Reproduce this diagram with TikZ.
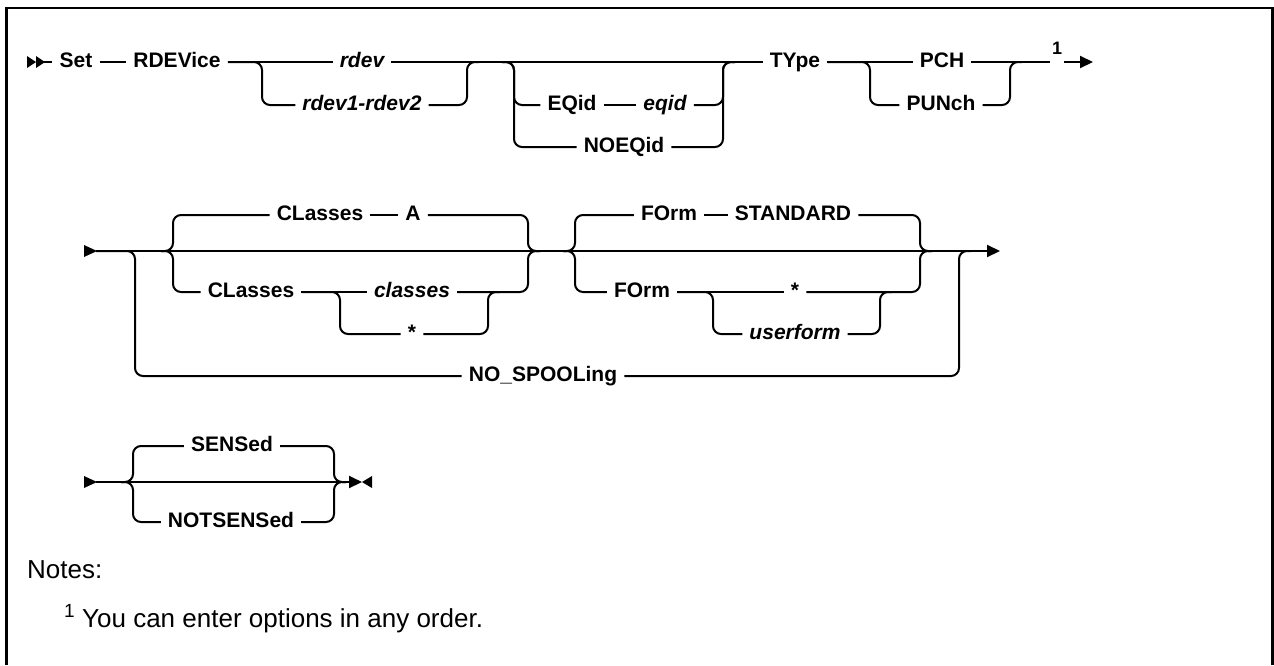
\documentclass[tikz,border=0pt]{standalone}
\usepackage{fontspec}
\setmainfont{Liberation Sans}
\usetikzlibrary{arrows.meta, calc}
\tikzset{
  kw/.style={
    inner xsep=7pt, inner ysep=2pt,
    text height=10pt, text depth=0pt,
    font=\fontsize{21}{24}\selectfont\bfseries
  },
  var/.style={kw, font=\fontsize{21}{24}\selectfont\bfseries\itshape},
  rl/.style={line width=2pt, rounded corners=8pt, draw=black},
  endarr/.style={-{Triangle[length=13pt, width=12pt]}},
  note/.style={font=\fontsize{26}{30}\selectfont, anchor=base west, inner sep=0pt},
  fnmark/.style={font=\fontsize{18}{20}\selectfont\bfseries, anchor=base, inner sep=0pt},
}

\begin{document}
\begin{tikzpicture}[x=1pt, y=-1pt]
\useasboundingbox (0,0) rectangle (1274,665);

%% ── Frame (open at the bottom) ──────────────────────────────────────────────
\draw[line width=2.5pt] (6.5,665) -- (6.5,8) -- (1272.5,8) -- (1272.5,665);

%% ── Row 1 (y = 62) ──────────────────────────────────────────────────────────
\node[kw]  (set)     at ( 76, 62) {Set};
\node[kw]  (rdevice) at (177, 62) {RDEVice};
\node[var] (rdev)    at (362, 62) {rdev};
\node[var] (rdevr)   at (362,105) {rdev1-rdev2};
\node[kw]  (eqid)    at (572,105) {EQid};
\node[var] (eqidv)   at (665,105) {eqid};
\node[kw]  (noeqid)  at (624,147) {NOEQid};
\node[kw]  (type)    at (795, 62) {TYpe};
\node[kw]  (pch)     at (942, 62) {PCH};
\node[kw]  (punch)   at (941,105) {PUNch};
\node[fnmark] (fn1)  at (1057,54) {1};

\coordinate (st1) at (  36, 62);
\coordinate (sp1) at ( 262, 62);
\coordinate (jn1) at ( 467, 62);
\coordinate (sp2) at ( 514, 62);
\coordinate (jn2) at ( 723, 62);
\coordinate (sp3) at ( 870, 62);
\coordinate (jn3) at (1010, 62);
\coordinate (c1)  at (1050, 62);
\coordinate (c1b) at (1064, 62);
\coordinate (e1)  at (1093, 62);

\fill (27,56) -- (36,62) -- (27,68) -- cycle;
\fill (36,56) -- (45,62) -- (36,68) -- cycle;

\draw[rl] (st1) -- (set);
\draw[rl] (set) -- (rdevice);
\draw[rl] (rdevice) -- (rdev);
\draw[rl] (rdev) -- (type);
\draw[rl] (rdevice.east) -| (sp1 |- rdevr) -- (rdevr.west);
\draw[rl] (rdevr.east) -| (jn1) -- ++(12,0);

\draw[rl] ([xshift=-12pt]sp2) -| (sp2 |- eqid) -- (eqid.west);
\draw[rl] ([xshift=-12pt]sp2) -| (sp2 |- noeqid) -- (noeqid.west);
\draw[rl] (eqid) -- (eqidv);
\draw[rl] (eqidv.east) -| (jn2) -- ++(12,0);
\draw[rl] (noeqid.east) -| (jn2) -- ++(12,0);

\draw[rl] (type) -- (pch);
\draw[rl] (type.east) -| (sp3 |- punch) -- (punch.west);
\draw[rl] (pch) -- (c1);
\draw[rl] (punch.east) -| (jn3) -- ++(12,0);
\draw[rl, endarr] (c1b) -- (e1);

%% ── Row 2 (y = 251) ─────────────────────────────────────────────────────────
\node[kw]  (clsa)     at (320,215) {CLasses};
\node[kw]  (clsval)   at (413,215) {A};
\node[kw]  (clsb)     at (251,292) {CLasses};
\node[var] (classes)  at (412,292) {classes};
\node[kw]  (star1)    at (412,334) {*};
\node[kw]  (forma)    at (669,215) {FOrm};
\node[kw]  (std)      at (793,215) {STANDARD};
\node[kw]  (formb)    at (642,292) {FOrm};
\node[kw]  (star2)    at (795,292) {*};
\node[var] (userform) at (795,334) {userform};
\node[kw]  (nospool)  at (543,376) {NO\_SPOOLing};

\coordinate (st2) at ( 96,251);
\coordinate (sp4) at (135,251);
\coordinate (bl1) at (173,251);
\coordinate (br1) at (528,251);
\coordinate (sp5) at (340,292);
\coordinate (jn5) at (488,292);
\coordinate (bl2) at (575,251);
\coordinate (br2) at (920,251);
\coordinate (sp6) at (713,292);
\coordinate (jn6) at (880,292);
\coordinate (jn7) at (959,251);
\coordinate (e2)  at (1000,251);

\fill (84,245) -- (97,251) -- (84,257) -- cycle;
\draw[rl, endarr] (st2) -- (e2);

% classes group
\draw[rl] ([xshift=-12pt]bl1) -| (bl1 |- clsa) -- (clsa.west);
\draw[rl] ([xshift=-12pt]bl1) -| (bl1 |- clsb) -- (clsb.west);
\draw[rl] (clsa) -- (clsval);
\draw[rl] (clsval.east) -| (br1) -- ++(12,0);
\draw[rl] (clsb) -- (classes);
\draw[rl] (clsb.east) -| (sp5 |- star1) -- (star1.west);
\draw[rl] (star1.east) -| (jn5) -- ++(12,0);
\draw[rl] (classes.east) -| (br1) -- ++(12,0);

% form group
\draw[rl] ([xshift=-12pt]bl2) -| (bl2 |- forma) -- (forma.west);
\draw[rl] ([xshift=-12pt]bl2) -| (bl2 |- formb) -- (formb.west);
\draw[rl] (forma) -- (std);
\draw[rl] (std.east) -| (br2) -- ++(12,0);
\draw[rl] (formb) -- (star2);
\draw[rl] (formb.east) -| (sp6 |- userform) -- (userform.west);
\draw[rl] (userform.east) -| (jn6) -- ++(12,0);
\draw[rl] (star2.east) -| (br2) -- ++(12,0);

% no spooling
\draw[rl] (st2) -| (sp4 |- nospool) -- (nospool.west);
\draw[rl] (nospool.east) -| (jn7) -- ++(12,0);

%% ── Row 3 (y = 482) ─────────────────────────────────────────────────────────
\node[kw] (sensed)    at (232,446) {SENSed};
\node[kw] (notsensed) at (231,522) {NOTSENSed};

\coordinate (st3) at ( 96,482);
\coordinate (bl3) at (133,482);
\coordinate (br3) at (334,482);
\coordinate (e3)  at (362,482);

\fill (84,476) -- (97,482) -- (84,488) -- cycle;
\draw[rl, endarr] (st3) -- (e3);
\fill (372,476) -- (362,482) -- (372,488) -- cycle;

\draw[rl] ([xshift=-12pt]bl3) -| (bl3 |- sensed) -- (sensed.west);
\draw[rl] ([xshift=-12pt]bl3) -| (bl3 |- notsensed) -- (notsensed.west);
\draw[rl] (sensed.east) -| (br3) -- ++(12,0);
\draw[rl] (notsensed.east) -| (br3) -- ++(12,0);

%% ── Notes ───────────────────────────────────────────────────────────────────
\node[note] (notes) at (27,578) {Notes:};
\node[note, font=\fontsize{19}{22}\selectfont] (fnnum) at (64,617) {1};
\node[note] (fntext) at (82,627) {You can enter options in any order.};

\end{tikzpicture}
\end{document}
